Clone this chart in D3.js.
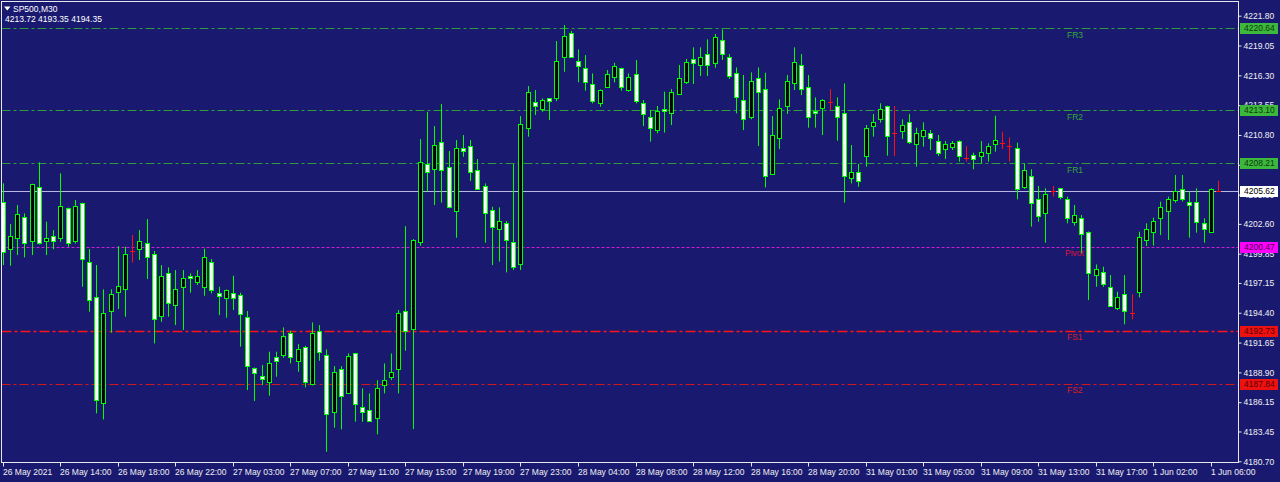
<!DOCTYPE html>
<html><head><meta charset="utf-8">
<script src="https://cdn.jsdelivr.net/npm/d3@7"></script>
<style>
html,body{margin:0;padding:0;background:#191970;}
svg{display:block;}
text{font-family:"Liberation Sans",Arial,sans-serif;}
</style></head><body>
<svg id="chart" width="1280" height="482"></svg>
<script>
const symbol = "SP500,M30";
const infoLine = "4213.72 4193.35 4194.35";

const opens = [
4204.64,4200.28,4201.26,4203.26,4201.02,4205.97,4201.02,4201.51,4201.26,4204.03,
4201.02,4204.49,4199.05,4195.82,4186.04,4194.56,4196.28,4196.56,4200.09,4200.25,
4200.80,4199.79,4194.10,4198.03,4195.08,4196.80,4197.82,4197.26,4196.74,4199.05,
4196.25,4195.73,4196.22,4196.00,4193.97,4189.27,4188.56,4188.04,4190.28,4190.50,
4192.50,4189.97,4191.27,4187.79,4192.74,4190.50,4185.27,4189.18,4186.96,4190.65,
4185.67,4185.43,4184.66,4187.73,4188.44,4189.18,4194.59,4192.90,4200.89,4208.12,
4207.62,4210.11,4207.81,4203.81,4209.56,4209.81,4207.56,4206.09,4203.87,4202.09,
4202.64,4200.89,4198.86,4211.41,4213.87,4213.19,4214.17,4214.17,4217.96,4220.17,
4217.65,4216.94,4215.47,4213.71,4215.19,4216.17,4216.94,4214.94,4216.42,4213.71,
4212.42,4211.25,4213.22,4212.79,4214.54,4215.71,4217.77,4217.25,4218.23,4217.46,
4219.55,4218.02,4216.48,4214.02,4212.48,4216.02,4215.00,4207.16,4210.55,4213.50,
4215.56,4217.25,4215.25,4213.01,4213.25,4213.80,4213.50,4212.79,4206.79,4207.41,
4208.89,4211.66,4212.24,4213.47,4210.95,4211.20,4211.97,4209.97,4210.70,4210.95,
4210.24,4209.47,4209.72,4210.24,4208.64,4208.95,4208.89,4209.10,4209.94,4210.09,
4209.81,4209.57,4206.03,4207.04,4204.86,4203.57,4205.63,4205.88,4204.86,4202.80,
4203.11,4201.88,4197.88,4198.13,4196.80,4194.81,4196.10,4194.34,4196.28,4201.11,
4201.88,4203.11,4203.82,4204.80,4205.81,4204.58,4204.58,4202.65,4201.82,4205.63];

const highs = [
4206.34,4202.58,4204.34,4203.57,4206.30,4208.27,4202.80,4202.03,4207.26,4204.10,
4204.80,4204.55,4200.28,4198.80,4196.56,4196.56,4200.55,4200.49,4201.57,4202.03,
4203.04,4200.09,4198.80,4198.59,4198.34,4198.34,4198.03,4198.34,4200.31,4199.35,
4196.80,4196.55,4197.82,4196.25,4194.56,4189.35,4189.58,4190.81,4190.81,4193.05,
4192.74,4191.51,4191.35,4193.51,4193.27,4191.02,4189.48,4189.48,4190.65,4190.70,
4187.42,4186.96,4188.19,4189.73,4190.65,4194.65,4202.39,4201.20,4210.42,4212.94,
4211.62,4213.65,4209.32,4210.33,4210.79,4210.33,4208.58,4206.33,4204.18,4204.12,
4202.86,4208.12,4212.54,4215.31,4214.94,4214.17,4214.20,4219.46,4220.94,4220.39,
4218.69,4218.17,4216.48,4215.00,4216.79,4217.46,4217.00,4216.48,4217.71,4214.02,
4213.10,4213.47,4214.79,4215.03,4217.25,4217.80,4218.88,4218.88,4219.62,4220.11,
4220.54,4218.26,4217.03,4216.33,4216.57,4217.03,4216.54,4212.54,4214.08,4216.33,
4218.88,4218.26,4216.33,4214.27,4214.10,4215.03,4214.27,4215.56,4209.87,4208.12,
4211.72,4212.73,4213.72,4213.50,4213.47,4212.24,4212.73,4211.47,4211.97,4211.26,
4210.80,4210.24,4210.24,4210.30,4209.78,4209.17,4210.24,4210.03,4212.58,4211.10,
4210.58,4210.09,4208.18,4207.63,4206.09,4205.88,4206.09,4205.90,4205.11,4204.34,
4203.42,4201.90,4198.86,4198.65,4197.88,4196.34,4197.88,4196.10,4201.88,4202.65,
4203.17,4204.65,4205.11,4207.11,4207.11,4205.57,4205.88,4203.11,4205.88,4206.58];

const lows = [
4198.80,4198.74,4199.72,4199.51,4199.72,4200.70,4199.72,4200.25,4200.95,4200.49,
4200.80,4196.80,4194.50,4185.12,4184.56,4192.56,4194.74,4194.03,4199.02,4199.26,
4197.51,4191.57,4193.57,4194.03,4193.27,4192.81,4196.25,4196.96,4195.97,4196.19,
4194.19,4193.94,4194.65,4191.27,4187.27,4186.26,4187.73,4186.75,4188.50,4190.25,
4189.73,4188.96,4187.52,4187.70,4189.97,4181.58,4183.80,4183.64,4186.90,4184.35,
4184.35,4184.38,4183.18,4186.96,4188.19,4186.96,4190.90,4183.67,4200.58,4205.56,
4204.33,4204.55,4204.05,4201.32,4208.79,4206.55,4205.75,4200.86,4198.80,4199.11,
4198.12,4198.34,4198.34,4210.64,4212.64,4212.94,4212.17,4213.93,4216.63,4217.90,
4215.65,4214.88,4213.71,4213.40,4215.15,4215.65,4214.88,4214.79,4213.71,4211.62,
4210.18,4210.95,4211.01,4211.71,4214.48,4215.50,4215.50,4216.23,4216.23,4217.00,
4217.71,4215.96,4212.79,4211.25,4212.24,4209.78,4205.96,4207.10,4209.50,4212.73,
4214.94,4214.48,4211.47,4211.47,4210.79,4213.10,4210.27,4204.55,4206.33,4206.02,
4207.88,4210.64,4211.93,4208.89,4208.86,4210.43,4209.97,4207.88,4209.72,4209.41,
4208.86,4208.58,4209.41,4208.34,4208.34,4207.63,4208.18,4208.34,4209.26,4209.50,
4208.34,4204.86,4205.82,4202.34,4202.80,4200.86,4205.11,4204.86,4202.65,4202.43,
4199.88,4195.57,4196.80,4196.80,4195.00,4194.65,4193.33,4193.79,4195.82,4200.56,
4200.59,4201.57,4201.11,4204.55,4204.65,4201.33,4201.79,4200.86,4201.80,4205.57];

const closes = [
4200.03,4201.51,4203.51,4200.80,4206.24,4200.80,4201.26,4201.05,4204.27,4200.80,
4204.27,4199.32,4195.54,4186.32,4194.34,4196.10,4196.86,4199.79,4200.09,4201.05,
4199.51,4193.82,4197.79,4195.33,4196.56,4197.57,4197.57,4197.82,4199.51,4196.50,
4195.97,4196.46,4195.73,4194.25,4189.51,4188.81,4188.25,4189.73,4189.97,4192.25,
4190.28,4191.05,4188.04,4192.50,4190.74,4185.06,4188.90,4186.72,4190.44,4185.98,
4185.21,4184.41,4187.42,4188.19,4188.90,4194.34,4192.71,4201.10,4208.33,4207.41,
4209.90,4207.56,4204.12,4209.56,4209.32,4207.35,4205.81,4203.56,4202.33,4202.86,
4201.10,4198.64,4211.78,4214.79,4213.47,4214.02,4213.96,4217.65,4219.92,4217.96,
4217.19,4215.71,4213.96,4214.94,4216.42,4217.19,4215.19,4216.17,4213.93,4212.70,
4211.47,4213.01,4213.04,4214.79,4216.02,4217.49,4217.46,4218.02,4217.25,4219.80,
4218.23,4216.26,4214.27,4212.30,4215.77,4214.79,4207.04,4210.79,4213.25,4215.77,
4217.49,4215.00,4212.48,4212.79,4214.02,4213.80,4212.48,4207.04,4207.35,4206.55,
4211.47,4211.97,4213.16,4210.70,4210.95,4211.72,4210.18,4210.95,4211.26,4210.49,
4209.17,4209.97,4210.03,4208.89,4208.64,4208.58,4209.20,4209.78,4210.33,4210.09,
4209.81,4205.82,4207.57,4204.55,4203.35,4205.32,4205.63,4205.05,4203.11,4203.42,
4201.63,4198.10,4198.40,4197.05,4195.05,4195.82,4194.56,4194.34,4201.36,4202.09,
4202.86,4204.12,4204.86,4205.63,4204.86,4204.34,4202.80,4202.09,4205.81,4205.63];

const timeLabels = ["26 May 2021","26 May 14:00","26 May 18:00","26 May 22:00","27 May 03:00",
"27 May 07:00","27 May 11:00","27 May 15:00","27 May 19:00","27 May 23:00","28 May 04:00",
"28 May 08:00","28 May 12:00","28 May 16:00","28 May 20:00","31 May 01:00","31 May 05:00",
"31 May 09:00","31 May 13:00","31 May 17:00","1 Jun 02:00","1 Jun 06:00"];
const barsPerTimeLabel = 8;

const priceTicks = [4221.80,4219.05,4216.30,4213.55,4210.80,4208.05,4205.30,4202.60,
4199.85,4197.15,4194.40,4191.65,4188.90,4186.15,4183.45,4180.70];

const levelNames = ["FR3","FR2","FR1","Pivot","FS1","FS2"];
const levelValues = [4220.64,4213.10,4208.21,4200.47,4192.73,4187.84];
const lastPrice = 4205.62;

// ---- styles (not data) ----
const BG = "#191970";
const levelStyle = {
  FR3:  {line:"#2f9a3c", dash:"9,3,3,3", w:1, box:"#3cb83c", boxText:"#0d3a0d", label:"#34a834", lx:1067},
  FR2:  {line:"#2f9a3c", dash:"9,3,3,3", w:1, box:"#3cb83c", boxText:"#0d3a0d", label:"#34a834", lx:1067},
  FR1:  {line:"#2f9a3c", dash:"9,3,3,3", w:1, box:"#3cb83c", boxText:"#0d3a0d", label:"#34a834", lx:1067},
  Pivot:{line:"#d21ed2", dash:"3,2",     w:1, box:"#ff00ff", boxText:"#4a004a", label:"#dc143c", lx:1065},
  FS1:  {line:"#ff1414", dash:"10,3,3,3", w:1.6, box:"#ee1111", boxText:"#5a0000", label:"#dc1e1e", lx:1067},
  FS2:  {line:"#d01818", dash:"9,3,3,3", w:1, box:"#ee1111", boxText:"#5a0000", label:"#dc1e1e", lx:1067}
};

const svg = d3.select("#chart");
svg.append("rect").attr("width",1280).attr("height",482).attr("fill",BG);

const n = opens.length;
const plotL = 1.5, plotR = 1238.5, plotT = 1.5, plotB = 462.5;
const x = d3.scaleLinear().domain([0, n-1]).range([2.8, 2.8 + 7.19*(n-1)]);
const y = d3.scaleLinear().domain([4180.70, 4221.80]).range([461.3, 15.7]);

svg.append("clipPath").attr("id","plotclip").append("rect")
  .attr("x",plotL).attr("y",plotT).attr("width",plotR-plotL).attr("height",plotB-plotT);

const plot = svg.append("g").attr("clip-path","url(#plotclip)");

// level lines (behind candles)
levelNames.forEach((nm,i)=>{
  const s = levelStyle[nm];
  const yy = Math.round(y(levelValues[i])) + 0.5;
  plot.append("line").attr("x1",plotL).attr("x2",plotR).attr("y1",yy).attr("y2",yy)
    .attr("stroke",s.line).attr("stroke-width",s.w).attr("stroke-dasharray",s.dash);
});
// last price line
{
  const yy = Math.round(y(lastPrice)) + 0.5;
  plot.append("line").attr("x1",plotL).attr("x2",plotR).attr("y1",yy).attr("y2",yy)
    .attr("stroke","#b8b8e2").attr("stroke-width",1);
}

// candles
const idx = d3.range(n);
const cx = i => Math.round(x(i)) + 0.5;
const candles = plot.append("g");
candles.selectAll("line.wick").data(idx).join("line").attr("class","wick")
  .attr("x1",cx).attr("x2",cx)
  .attr("y1",i=>y(highs[i])).attr("y2",i=>y(lows[i]))
  .attr("stroke",i=> opens[i]===closes[i] ? "#ff1010" : "#00ff00").attr("stroke-width",1);

const bodies = idx.filter(i=>opens[i]!==closes[i]);
candles.selectAll("rect.body").data(bodies).join("rect").attr("class","body")
  .attr("x",i=>cx(i)-2).attr("width",4)
  .attr("y",i=>Math.round(y(Math.max(opens[i],closes[i])))+0.5)
  .attr("height",i=>Math.max(1, Math.round(y(Math.min(opens[i],closes[i]))) - Math.round(y(Math.max(opens[i],closes[i])))))
  .attr("fill",i=> closes[i]>opens[i] ? "#000000" : "#ffffff")
  .attr("stroke","#00ff00").attr("stroke-width",1);

const dojis = idx.filter(i=>opens[i]===closes[i]);
candles.selectAll("line.doji").data(dojis).join("line").attr("class","doji")
  .attr("x1",i=>cx(i)-2.5).attr("x2",i=>cx(i)+2.5)
  .attr("y1",i=>Math.round(y(opens[i]))+0.5).attr("y2",i=>Math.round(y(opens[i]))+0.5)
  .attr("stroke","#ff1010").attr("stroke-width",1);

// level labels
levelNames.forEach((nm,i)=>{
  const s = levelStyle[nm];
  svg.append("text").attr("x",s.lx).attr("y",y(levelValues[i])+9.5)
    .attr("fill",s.label).attr("font-size","8.5px").text(nm);
});

// frame
svg.append("rect").attr("x",plotL).attr("y",plotT).attr("width",plotR-plotL).attr("height",plotB-plotT)
  .attr("fill","none").attr("stroke","#e8e8e8").attr("stroke-width",1);

// right axis
const yAxis = d3.axisRight(y).tickValues(priceTicks).tickFormat(d3.format(".2f")).tickSize(3).tickPadding(2);
const gy = svg.append("g").attr("transform","translate(1238.5,0)").call(yAxis);
gy.select(".domain").remove();
gy.selectAll(".tick line").attr("stroke","#e8e8e8");
gy.selectAll(".tick text").attr("fill","#f0f0f0").attr("font-size","8.5px")
  .attr("font-family","'Liberation Sans',Arial,sans-serif");

// bottom axis
const tickIdx = d3.range(0, n, barsPerTimeLabel);
const xAxis = d3.axisBottom(x).tickValues(tickIdx).tickFormat((d,i)=>timeLabels[i]).tickSize(4).tickPadding(2);
const gx = svg.append("g").attr("transform","translate(0,462.5)").call(xAxis);
gx.select(".domain").remove();
gx.selectAll(".tick").attr("transform",d=>`translate(${cx(d)},0)`);
gx.selectAll(".tick line").attr("stroke","#e8e8e8");
gx.selectAll(".tick text").attr("fill","#f0f0f0").attr("font-size","8.5px")
  .attr("text-anchor","start").attr("x",-0.5)
  .attr("font-family","'Liberation Sans',Arial,sans-serif");

// price boxes on right axis
function priceBox(v, fill, tc){
  const yy = Math.round(y(v));
  svg.append("rect").attr("x",1240).attr("y",yy-5).attr("width",38).attr("height",11).attr("fill",fill);
  svg.append("text").attr("x",1244).attr("y",yy+0.5).attr("dy","0.33em")
    .attr("fill",tc).attr("font-size","8.5px").text(d3.format(".2f")(v));
}
levelNames.forEach((nm,i)=>{
  const s = levelStyle[nm];
  priceBox(levelValues[i], s.box, s.boxText);
});
priceBox(lastPrice, "#ffffff", "#000000");

// header
svg.append("path").attr("d","M4,6.5 L10.5,6.5 L7.25,10.5 Z").attr("fill","#ffffff");
svg.append("text").attr("x",13).attr("y",12).attr("fill","#ffffff").attr("font-size","8.5px").text(symbol);
svg.append("text").attr("x",5).attr("y",22).attr("fill","#ffffff").attr("font-size","8.5px").text(infoLine);
</script>
</body></html>
